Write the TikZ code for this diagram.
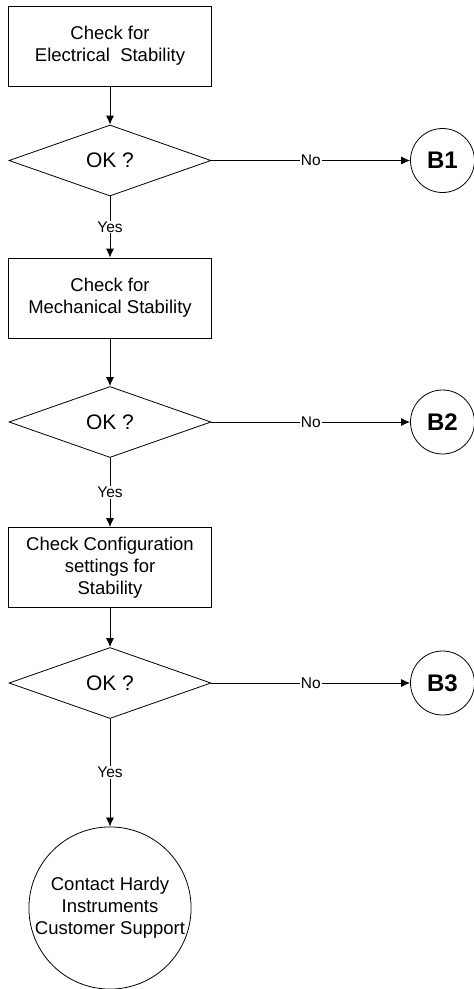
\documentclass[tikz,border=0pt]{standalone}
\usepackage{fontspec}
\setmainfont{Liberation Sans}
\usetikzlibrary{shapes.geometric,arrows.meta}
\tikzset{
block/.style = {draw, minimum height=80pt, minimum width=203pt, align=center,
                font=\fontsize{18.5}{22}\selectfont},
decision/.style = {diamond, draw, minimum width=202pt, minimum height=71pt,
                inner sep=0pt, font=\fontsize{21}{24}\selectfont},
conn/.style = {circle, draw, minimum size=64pt, inner sep=0pt,
                font=\fontsize{24}{27}\selectfont\bfseries},
terminal/.style = {circle, draw, minimum size=160pt, inner sep=0pt, align=center,
                font=\fontsize{18.5}{22}\selectfont},
lbl/.style = {fill=white, inner sep=1pt, font=\fontsize{15.5}{17}\selectfont}
}

\begin{document}
\begin{tikzpicture}[line width=0.8pt, >={Latex[length=9pt,width=8pt]}]
    \useasboundingbox (0,0) rectangle (474pt,-989pt);

    \node [block, name=elec] at (110pt,-46pt) (elec) {Check for\\Electrical~ Stability};
    \node [decision, name=ok1, below of=elec, node distance=114.5pt] (ok1) {OK ?};
    \node [conn, name=b1, right of=ok1, node distance=332.5pt] (b1) {B1};

    \node [block, name=mech, below of=ok1, node distance=137.5pt] (mech) {Check for\\Mechanical Stability};
    \node [decision, name=ok2, below of=mech, node distance=124pt] (ok2) {OK ?};
    \node [conn, name=b2, right of=ok2, node distance=332.5pt] (b2) {B2};

    \node [block, name=conf, below of=ok2, node distance=145.5pt] (conf) 
    {Check Configuration\\settings for\\Stability};
    \node [decision, name=ok3, below of=conf, node distance=115.5pt] (ok3) {OK ?};
    \node [conn, name=b3, right of=ok3, node distance=332.5pt] (b3) {B3};

    \node [terminal, name=hardy, below of=ok3, node distance=225pt] (hardy) 
    {Contact Hardy\\Instruments\\Customer Support};

    \draw [->] (elec) -- (ok1);
    \draw [->] (ok1) -- node [lbl] {Yes} (mech);
    \draw [->] (ok1) -- node [lbl] {No} (b1);

    \draw [->] (mech) -- (ok2);
    \draw [->] (ok2) -- node [lbl] {Yes} (conf);
    \draw [->] (ok2) -- node [lbl] {No} (b2);

    \draw [->] (conf) -- (ok3);
    \draw [->] (ok3) -- node [lbl] {Yes} (hardy);
    \draw [->] (ok3) -- node [lbl] {No} (b3);

\end{tikzpicture}
\end{document}
